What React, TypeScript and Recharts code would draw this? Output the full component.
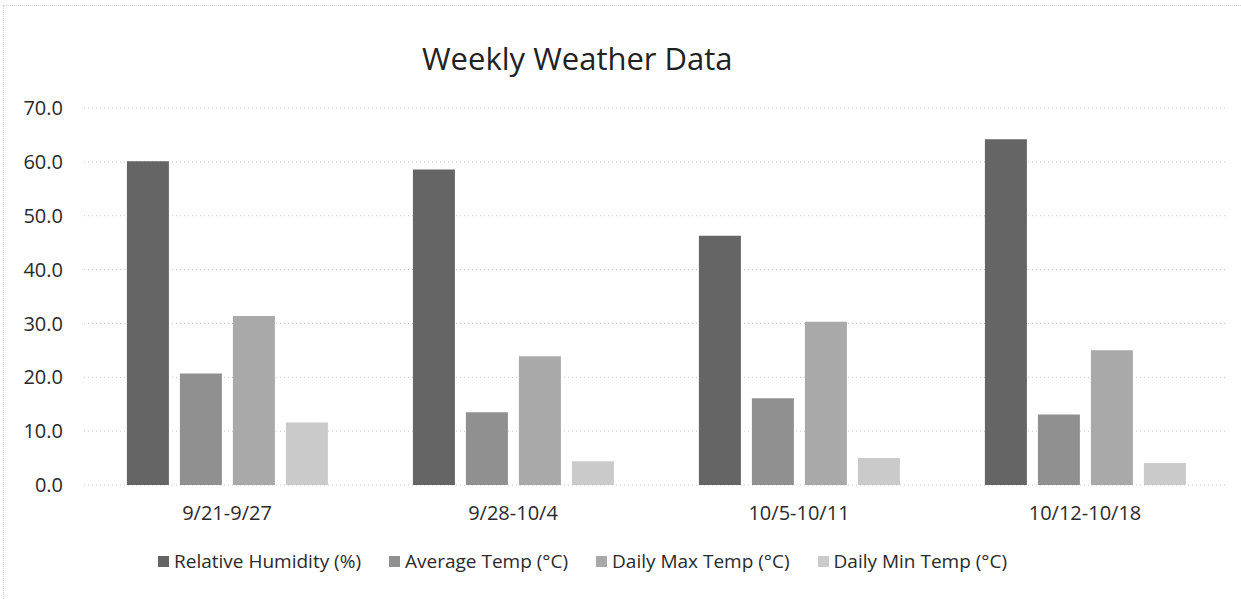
import { BarChart, Bar, XAxis, YAxis, CartesianGrid } from "recharts";

const weeks = ["9/21-9/27", "9/28-10/4", "10/5-10/11", "10/12-10/18"];
const humidity = [60.1, 58.6, 46.3, 64.2];
const avgTemp = [20.7, 13.5, 16.1, 13.1];
const maxTemp = [31.4, 23.9, 30.3, 25.0];
const minTemp = [11.6, 4.4, 5.0, 4.1];
const yTicks = [0, 10, 20, 30, 40, 50, 60, 70];

const series = [
  { key: "humidity", name: "Relative Humidity (%)", color: "#656565" },
  { key: "avg", name: "Average Temp (°C)", color: "#909090" },
  { key: "max", name: "Daily Max Temp (°C)", color: "#a9a9a9" },
  { key: "min", name: "Daily Min Temp (°C)", color: "#cacaca" },
];

const data = weeks.map((week, i) => ({
  week,
  humidity: humidity[i],
  avg: avgTemp[i],
  max: maxTemp[i],
  min: minTemp[i],
}));

const font = "'Open Sans', sans-serif";

export default function App() {
  return (
    <div style={{ position: "absolute", left: 0, top: 0, width: 1241, height: 599, background: "#fff", fontFamily: font }}>
      <div
        style={{
          position: "absolute",
          left: 3,
          top: 5,
          right: 0,
          bottom: 0,
          borderTop: "1px dotted #cfcfcf",
          borderLeft: "1px dotted #cfcfcf",
        }}
      />
      <div style={{ position: "absolute", left: 422, top: 37, fontSize: 31, lineHeight: "42px", color: "#222", whiteSpace: "nowrap" }}>
        Weekly Weather Data
      </div>
      <BarChart
        width={1241}
        height={599}
        data={data}
        margin={{ top: 108, right: 13, left: 0, bottom: 80 }}
        barCategoryGap="15%"
        barGap={11}
        style={{ position: "absolute", left: 0, top: 0 }}
      >
        <CartesianGrid vertical={false} stroke="#c4c4c4" strokeDasharray="1 3" />
        <XAxis
          dataKey="week"
          axisLine={false}
          tickLine={false}
          tickSize={0}
          tickMargin={21}
          height={34}
          tick={{ fontSize: 20, fill: "#2a2a2a", fontFamily: font }}
        />
        <YAxis
          domain={[0, 70]}
          ticks={yTicks}
          width={84}
          axisLine={false}
          tickLine={false}
          tickSize={0}
          tickMargin={21}
          tickFormatter={(v: number) => v.toFixed(1)}
          tick={{ fontSize: 20, fill: "#2a2a2a", fontFamily: font }}
        />
        {series.map((s) => (
          <Bar key={s.key} dataKey={s.key} name={s.name} fill={s.color} isAnimationActive={false} />
        ))}
      </BarChart>
      <div
        style={{
          position: "absolute",
          left: 158,
          top: 548,
          display: "flex",
          gap: 28,
          fontSize: 19,
          lineHeight: "26px",
          color: "#2a2a2a",
          whiteSpace: "nowrap",
        }}
      >
        {series.map((s) => (
          <div key={s.key} style={{ display: "flex", alignItems: "center" }}>
            <span style={{ display: "inline-block", width: 11, height: 11, background: s.color, marginRight: 5 }} />
            {s.name}
          </div>
        ))}
      </div>
    </div>
  );
}
